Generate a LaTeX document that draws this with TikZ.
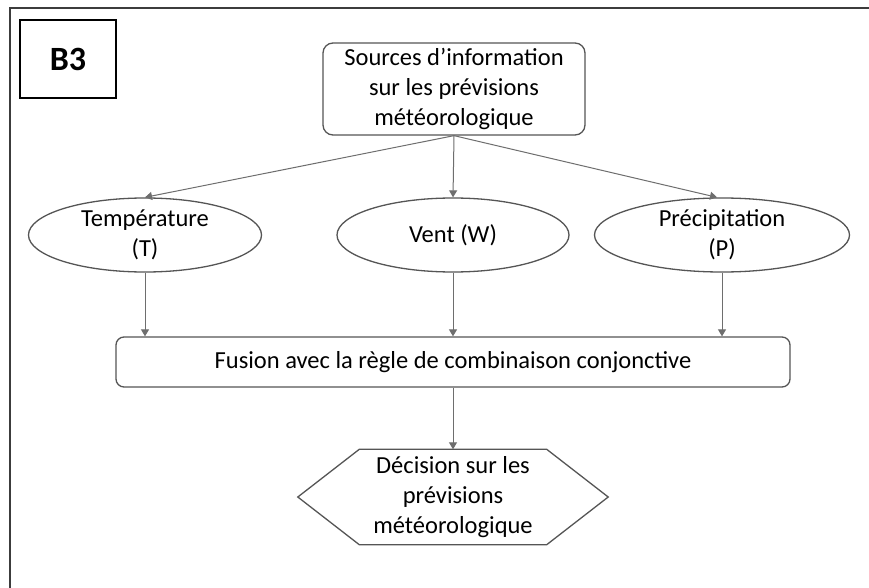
\documentclass[tikz,border=0pt]{standalone}
\usepackage{fontspec}
\setmainfont{Carlito}
\usetikzlibrary{shapes.geometric,arrows.meta}
\definecolor{edge}{RGB}{85,85,85}
\definecolor{conn}{RGB}{110,110,110}
\definecolor{frame}{RGB}{60,60,60}
\begin{document}
\begin{tikzpicture}[x=1pt,y=-1pt,
  txt/.style={font=\fontsize{24.5}{30}\selectfont, align=center, text=black},
  rbox/.style={txt, draw=edge, line width=1.3pt, rounded corners=10pt, inner sep=0pt},
  ell/.style={txt, draw=edge, line width=1.3pt, ellipse, inner sep=0pt},
  conn/.style={draw=conn, line width=1pt, -{Triangle[width=8pt,length=7pt]}}]
\useasboundingbox (0,0) rectangle (869,588);
\fill[white] (0,0) rectangle (869,588);
% frame (left and top edges)
\draw[frame, line width=2.6pt] (10,588) -- (10,8) -- (869,8);
% B3 label
\node[draw=black, line width=1.3pt, minimum width=96pt, minimum height=78pt, inner sep=0pt,
      font=\fontsize{34}{34}\selectfont\bfseries] (b3) at (68,59) {B3};
% source
\node[rbox, minimum width=262pt, minimum height=92pt] (src) at (454,89)
  {Sources d’information\\sur les prévisions\\météorologique};
% ellipses
\node[ell, minimum width=233pt, minimum height=74pt] (temp) at (145,235) {Température\\(T)};
\node[ell, minimum width=232pt, minimum height=74pt] (vent) at (453,235) {Vent (W)};
\node[ell, minimum width=255pt, minimum height=74pt] (prec) at (722,235) {Précipitation\\(P)};
% fusion
\node[rbox, rounded corners=8pt, minimum width=674pt, minimum height=50pt] (fus) at (453,362)
  {Fusion avec la règle de combinaison conjonctive};
% decision (hexagon)
\node[txt, minimum width=187pt, minimum height=95pt, inner sep=0pt] (dec) at (453,497)
  {Décision sur les\\prévisions\\météorologique};
\draw[edge, line width=1.3pt] (dec.north west) -- (dec.north east) -- ([xshift=61.5pt]dec.east)
  -- (dec.south east) -- (dec.south west) -- ([xshift=-61.5pt]dec.west) -- cycle;
% connectors
\draw[conn] (src.south) -- (temp.north);
\draw[conn] (src.south) -- (vent.north);
\draw[conn] (src.south) -- ([xshift=-5pt]prec.north);
\draw[conn] (temp.south) -- (temp.south |- fus.north);
\draw[conn] (vent.south) -- (vent.south |- fus.north);
\draw[conn] (prec.south) -- (prec.south |- fus.north);
\draw[conn] (fus.south) -- (dec.north);
\end{tikzpicture}
\end{document}
